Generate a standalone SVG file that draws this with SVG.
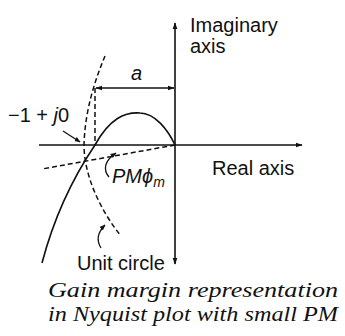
<svg xmlns="http://www.w3.org/2000/svg" width="345" height="336" viewBox="0 0 345 336">
<style>
.lbl{font-family:"Liberation Sans",Arial,sans-serif;font-size:20px;fill:#111}
.it{font-style:italic}
.cap{font-family:"Liberation Serif","Times New Roman",serif;font-style:italic;font-size:21px;fill:#111}
.ax{stroke:#111;stroke-width:1.6;fill:none}
.sol{stroke:#111;stroke-width:1.6;fill:none}
.dash{stroke:#111;stroke-width:1.5;fill:none;stroke-dasharray:5 3}
.thin{stroke:#111;stroke-width:1.3;fill:none}
</style>
<defs>
<marker id="ah" viewBox="0 0 10 10" refX="9" refY="5" markerWidth="7" markerHeight="7" markerUnits="userSpaceOnUse" orient="auto-start-reverse">
<path d="M0,1.5 L10,5 L0,8.5 Z" fill="#111"/>
</marker>
<marker id="ahs" viewBox="0 0 10 10" refX="9" refY="5" markerWidth="6" markerHeight="6" markerUnits="userSpaceOnUse" orient="auto">
<path d="M0,1 L10,5 L0,9 Z" fill="#111"/>
</marker>
</defs>
<g id="axes">
<path class="ax" d="M39,145 L302,145" marker-end="url(#ah)"/>
<path class="ax" d="M175,264 L175,23" marker-start="url(#ah)" marker-end="url(#ah)"/>
</g>
<g id="connectors">
<path id="nyquist" class="sol" d="M42,263 C52,225 68,185 95,145 C110,118 125,112 140,113 C155,113 168,130 175,145"/>
<path id="unit-circle" class="dash" d="M105,56 C95,80 85,110 84,145 C84,175 100,210 121,236"/>
<path id="pm-line" class="dash" d="M175,145 L42,169"/>
<path id="ext" class="dash" d="M95,88 L95,145"/>
<path id="dim-a" class="thin" d="M96,88 L174,88" marker-start="url(#ah)" marker-end="url(#ah)"/>
<path id="lead-point" class="thin" d="M63,131 L80,142" marker-end="url(#ahs)"/>
<path id="lead-pm" class="thin" d="M109,177 C103,170 104,161 116,153" marker-end="url(#ahs)"/>
<path id="lead-uc" class="thin" d="M101,248 C96,240 98,232 105,225" marker-end="url(#ahs)"/>
</g>
<g id="labels">
<text class="lbl" x="190" y="32">Imaginary</text>
<text class="lbl" x="190" y="53">axis</text>
<text class="lbl it" x="131" y="80">a</text>
<text class="lbl" x="8" y="122">−1 + <tspan class="it">j</tspan>0</text>
<text class="lbl" x="212" y="175">Real axis</text>
<text class="lbl it" x="112" y="183">PMϕ<tspan font-size="14" dy="4">m</tspan></text>
<text class="lbl" x="77" y="270">Unit circle</text>
</g>
<g id="caption">
<text class="cap" x="48" y="297" textLength="290" lengthAdjust="spacingAndGlyphs">Gain margin representation</text>
<text class="cap" x="48" y="321" textLength="290" lengthAdjust="spacingAndGlyphs">in Nyquist plot with small PM</text>
</g>
</svg>
